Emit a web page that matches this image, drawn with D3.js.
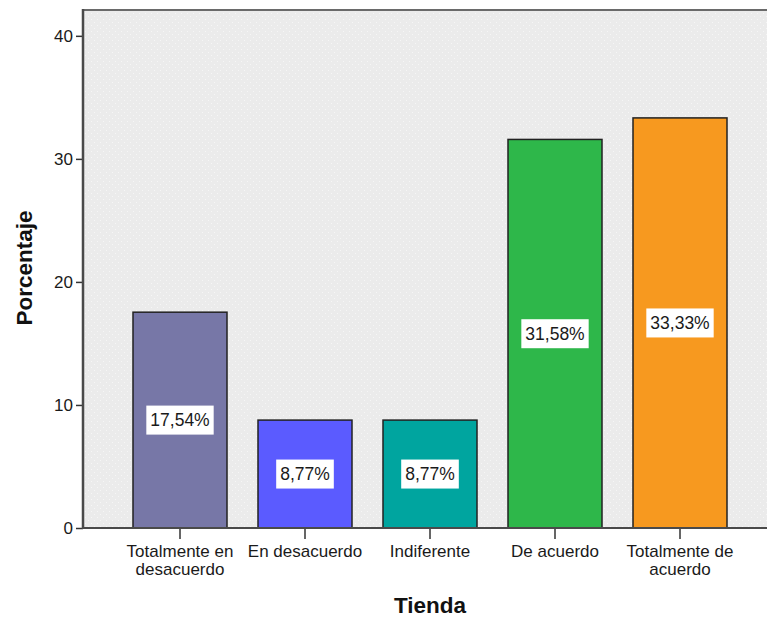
<!DOCTYPE html>
<html>
<head>
<meta charset="utf-8">
<script src="https://cdn.jsdelivr.net/npm/d3@7"></script>
<style>
  html, body { margin: 0; padding: 0; background: #ffffff; }
  svg { display: block; font-family: "Liberation Sans", Arial, sans-serif; }
</style>
</head>
<body>
<svg id="chart" width="767" height="618"></svg>
<script>
// Responses for "Tienda" (percent of respondents)
const categories = [
  "Totalmente en\ndesacuerdo",
  "En desacuerdo",
  "Indiferente",
  "De acuerdo",
  "Totalmente de\nacuerdo"
];
const percentages = [17.54, 8.77, 8.77, 31.58, 33.33];
const barColors = ["#7777a7", "#5b5bff", "#00a59f", "#2eb74a", "#f7991f"];
const yTicks = [0, 10, 20, 30, 40];

const svg = d3.select("#chart");

const plot = { left: 83, right: 790, top: 10, bottom: 528 };

const x = d3.scaleBand()
  .domain(categories)
  .range([117.5, 742.5])
  .paddingInner(0.248)
  .paddingOuter(0.124);

const y = d3.scaleLinear()
  .domain([0, 42.1])
  .range([plot.bottom, plot.top]);

// Plot background with a faint dotted texture
const defs = svg.append("defs");
const pat = defs.append("pattern")
  .attr("id", "dots")
  .attr("width", 6).attr("height", 6)
  .attr("patternUnits", "userSpaceOnUse");
pat.append("rect").attr("width", 6).attr("height", 6).attr("fill", "#ebebeb");
pat.append("rect").attr("x", 1).attr("y", 1).attr("width", 1).attr("height", 1).attr("fill", "#f6f6f6");
pat.append("rect").attr("x", 4).attr("y", 4).attr("width", 1).attr("height", 1).attr("fill", "#f6f6f6");

svg.append("rect")
  .attr("x", plot.left).attr("y", plot.top)
  .attr("width", plot.right - plot.left)
  .attr("height", plot.bottom - plot.top)
  .attr("fill", "url(#dots)");

// Top border of the plot frame
svg.append("line")
  .attr("x1", plot.left).attr("x2", plot.right)
  .attr("y1", plot.top).attr("y2", plot.top)
  .attr("stroke", "#6a6a6a").attr("stroke-width", 2);

// Bars
svg.append("g").selectAll("rect")
  .data(percentages)
  .join("rect")
  .attr("x", (d, i) => x(categories[i]))
  .attr("y", d => y(d))
  .attr("width", x.bandwidth())
  .attr("height", d => y(0) - y(d))
  .attr("fill", (d, i) => barColors[i])
  .attr("stroke", "#222222")
  .attr("stroke-width", 1.5);

// Value labels in white boxes at mid-height of each bar
const fmt = v => v.toFixed(2).replace(".", ",") + "%";
const labels = svg.append("g").selectAll("g")
  .data(percentages)
  .join("g")
  .attr("transform", (d, i) => `translate(${x(categories[i]) + x.bandwidth() / 2},${y(d / 2)})`);

labels.each(function (d) {
  const g = d3.select(this);
  const t = g.append("text")
    .attr("text-anchor", "middle")
    .attr("dy", "0.36em")
    .attr("font-size", 17.5)
    .attr("fill", "#1a1a1a")
    .text(fmt(d));
  const w = t.node().getComputedTextLength();
  g.insert("rect", "text")
    .attr("x", -w / 2 - 4)
    .attr("y", -14.5)
    .attr("width", w + 8)
    .attr("height", 29)
    .attr("fill", "#ffffff");
});

// Y axis
const yAxis = svg.append("g")
  .attr("transform", `translate(${plot.left},0)`)
  .call(d3.axisLeft(y).tickValues(yTicks).tickSize(7).tickPadding(3).tickFormat(d3.format("d")));
yAxis.select(".domain").remove();
yAxis.selectAll(".tick line").attr("stroke", "#333333").attr("stroke-width", 1.5);
yAxis.selectAll(".tick text")
  .attr("font-size", 17)
  .attr("font-family", "'Liberation Sans', Arial, sans-serif")
  .attr("fill", "#1a1a1a");
svg.append("line")
  .attr("x1", plot.left).attr("x2", plot.left)
  .attr("y1", plot.top - 1).attr("y2", plot.bottom + 1)
  .attr("stroke", "#4a4a4a").attr("stroke-width", 2.5);

// X axis
const xAxis = svg.append("g")
  .attr("transform", `translate(0,${plot.bottom})`)
  .call(d3.axisBottom(x).tickSize(11).tickFormat(""));
xAxis.select(".domain").remove();
xAxis.selectAll(".tick line").attr("stroke", "#333333").attr("stroke-width", 1.5);
svg.append("line")
  .attr("x1", plot.left).attr("x2", plot.right)
  .attr("y1", plot.bottom).attr("y2", plot.bottom)
  .attr("stroke", "#4a4a4a").attr("stroke-width", 2);

// Category labels: one <text> per line so wrapped lines stack cleanly
const lineGap = 18;
const catGroups = svg.append("g").selectAll("g")
  .data(categories)
  .join("g")
  .attr("transform", d => `translate(${x(d) + x.bandwidth() / 2},557)`);
catGroups.each(function (d) {
  d3.select(this).selectAll("text")
    .data(d.split("\n"))
    .join("text")
    .attr("text-anchor", "middle")
    .attr("font-size", 17)
    .attr("fill", "#1a1a1a")
    .attr("y", (line, k) => k * lineGap)
    .text(line => line);
});

// Axis titles
svg.append("text")
  .attr("x", 430).attr("y", 613)
  .attr("text-anchor", "middle")
  .attr("font-size", 22.5)
  .attr("font-weight", "bold")
  .attr("fill", "#111111")
  .text("Tienda");

svg.append("text")
  .attr("transform", "translate(32,268) rotate(-90)")
  .attr("text-anchor", "middle")
  .attr("font-size", 22.5)
  .attr("font-weight", "bold")
  .attr("fill", "#111111")
  .text("Porcentaje");
</script>
</body>
</html>
